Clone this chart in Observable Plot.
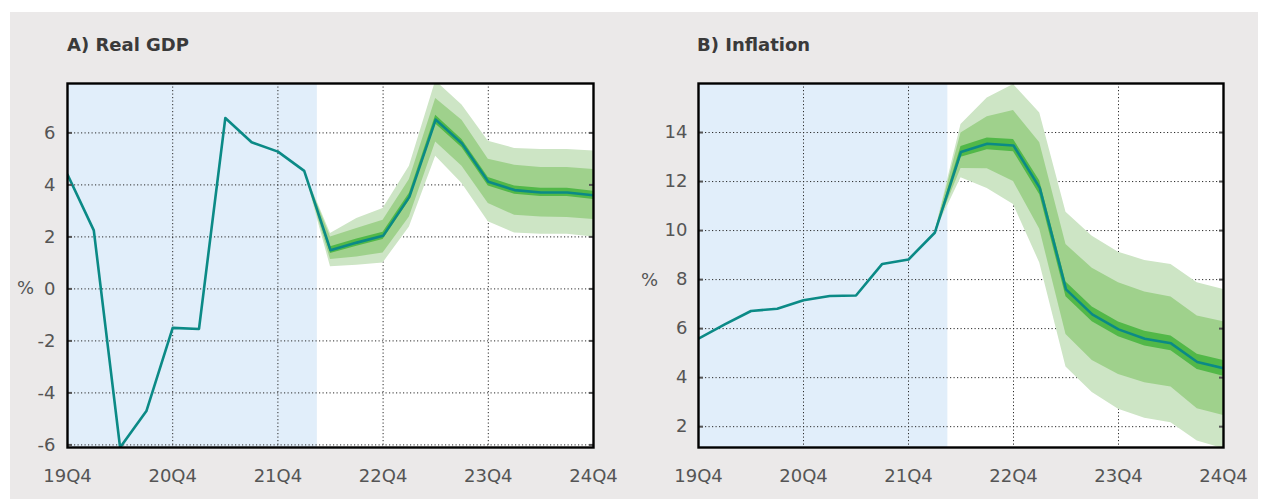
<!DOCTYPE html>
<html>
<head>
<meta charset="utf-8">
<script src="https://cdn.jsdelivr.net/npm/d3@7"></script>
<script src="https://cdn.jsdelivr.net/npm/@observablehq/plot@0.6"></script>
<style>
  html, body { margin: 0; padding: 0; background: #ffffff; }
  #page { position: relative; width: 1262px; height: 499px; overflow: hidden; font-family: "DejaVu Sans", sans-serif; }
  #panel { position: absolute; left: 10px; top: 12px; width: 1248px; height: 487px; background: #ebe9e9; }
  .title { position: absolute; font-size: 18px; font-weight: 700; color: #3a3a3a; line-height: 18px; white-space: nowrap; }
  .unit { position: absolute; font-size: 18px; color: #555555; line-height: 18px; }
  .chart { position: absolute; top: 0; }
  .chart svg { background: transparent !important; display: block; }
</style>
</head>
<body>
<div id="page">
  <div id="panel"></div>
  <div class="title" style="left:67px; top:36px;">A) Real GDP</div>
  <div class="title" style="left:697px; top:36px;">B) Inflation</div>
  <div class="chart" id="left" style="left:0px;"></div>
  <div class="chart" id="right" style="left:630px;"></div>
  <div class="unit" style="left:17px; top:279px;">%</div>
  <div class="unit" style="left:641px; top:271px;">%</div>
</div>
<script>
// Quarters from 19Q4 to 24Q4
const quarters = ["19Q4","20Q1","20Q2","20Q3","20Q4","21Q1","21Q2","21Q3","21Q4","22Q1","22Q2","22Q3","22Q4","23Q1","23Q2","23Q3","23Q4","24Q1","24Q2","24Q3","24Q4"];
const xTickLabels = ["19Q4","20Q4","21Q4","22Q4","23Q4","24Q4"];
// History shading: end between 22Q1 and 22Q2
const historyShade = [{start: "19Q4", endQuarterPos: 9.5}];
// First quarter of the fan (last observed)
const fanStart = "22Q1";

// A) Real GDP (%)
const gdp = [4.4, 2.25, -6.1, -4.7, -1.5, -1.54, 6.57, 5.64, 5.28, 4.54, 1.49, 1.78, 2.04, 3.54, 6.51, 5.59, 4.12, 3.80, 3.71, 3.71, 3.60];
const gdpOuterHi = [4.54, 2.13, 2.71, 3.09, 4.72, 8.0, 7.07, 5.68, 5.40, 5.36, 5.36, 5.30];
const gdpOuterLo = [4.54, 0.85, 0.91, 1.00, 2.38, 5.10, 4.05, 2.58, 2.15, 2.10, 2.10, 2.00];
const gdpMidHi   = [4.54, 2.00, 2.32, 2.64, 4.21, 7.32, 6.49, 4.99, 4.76, 4.67, 4.67, 4.59];
const gdpMidLo   = [4.54, 1.13, 1.23, 1.38, 2.77, 5.65, 4.72, 3.28, 2.83, 2.77, 2.75, 2.67];
const gdpInnerHi = [4.54, 1.62, 1.92, 2.18, 3.68, 6.68, 5.75, 4.28, 3.96, 3.87, 3.87, 3.76];
const gdpInnerLo = [4.54, 1.36, 1.64, 1.90, 3.40, 6.34, 5.43, 3.96, 3.64, 3.55, 3.55, 3.44];
const gdpTicks = [-6, -4, -2, 0, 2, 4, 6];

// B) Inflation (%)
const inflation = [5.59, 6.17, 6.72, 6.81, 7.16, 7.33, 7.35, 8.64, 8.82, 9.91, 13.21, 13.54, 13.47, 11.74, 7.60, 6.58, 5.97, 5.59, 5.40, 4.64, 4.38];
const infOuterHi = [9.91, 14.33, 15.41, 15.96, 14.80, 10.75, 9.77, 9.12, 8.78, 8.62, 7.87, 7.60];
const infOuterLo = [9.91, 12.15, 11.72, 11.06, 8.68, 4.43, 3.39, 2.71, 2.34, 2.16, 1.42, 1.10];
const infMidHi   = [9.91, 13.98, 14.64, 14.90, 13.58, 9.43, 8.46, 7.87, 7.49, 7.29, 6.51, 6.28];
const infMidLo   = [9.91, 12.53, 12.52, 12.00, 10.05, 5.76, 4.70, 4.13, 3.79, 3.62, 2.73, 2.46];
const infInnerHi = [9.91, 13.43, 13.78, 13.72, 12.02, 7.90, 6.88, 6.27, 5.89, 5.70, 4.95, 4.70];
const infInnerLo = [9.91, 12.99, 13.30, 13.22, 11.46, 7.30, 6.28, 5.67, 5.29, 5.10, 4.33, 4.06];
const infTicks = [2, 4, 6, 8, 10, 12, 14];

const colors = {
  line: "#0b8a86",
  outer: "#cde5c5",
  mid: "#9fd18c",
  inner: "#52b848",
  shade: "#e1eefa",
  grid: "#2a2a2a"
};

function build({values, outerHi, outerLo, midHi, midLo, innerHi, innerLo, yDomain, yTicks, marginLeft, marginRight, width, yPad}) {
  const pos = q => quarters.indexOf(q);
  const xTicks = xTickLabels.map(pos);
  const start = pos(fanStart);
  const fan = outerHi.map((_, k) => ({
    x: start + k,
    oh: outerHi[k], ol: outerLo[k],
    mh: midHi[k], ml: midLo[k],
    ih: innerHi[k], il: innerLo[k]
  }));
  const series = values.map((v, i) => ({x: i, y: v}));
  const shade = historyShade.map(d => ({x1: pos(d.start), x2: d.endQuarterPos}));
  return Plot.plot({
    width, height: 499,
    marginLeft, marginRight, marginTop: 83, marginBottom: 52,
    style: {fontFamily: "'DejaVu Sans', sans-serif", fontSize: "18px", color: "#555555", background: "transparent"},
    x: {domain: [0, quarters.length - 1]},
    y: {domain: yDomain},
    marks: [
      Plot.frame({fill: "#ffffff"}),
      Plot.rect(shade, {x1: "x1", x2: "x2", fill: colors.shade}),
      Plot.gridX(xTicks.slice(1, -1), {stroke: colors.grid, strokeOpacity: 1, strokeWidth: 1, strokeDasharray: "1.2,2.3"}),
      Plot.gridY(yTicks, {stroke: colors.grid, strokeOpacity: 1, strokeWidth: 1, strokeDasharray: "1.2,2.3"}),
      Plot.areaY(fan, {x: "x", y1: "ol", y2: "oh", fill: colors.outer, clip: true}),
      Plot.areaY(fan, {x: "x", y1: "ml", y2: "mh", fill: colors.mid, clip: true}),
      Plot.areaY(fan, {x: "x", y1: "il", y2: "ih", fill: colors.inner, clip: true}),
      Plot.line(series, {x: "x", y: "y", stroke: colors.line, strokeWidth: 2.6, clip: true}),
      Plot.axisY({anchor: "left", ticks: yTicks, tickSize: -5, tickFormat: () => "", strokeWidth: 2}),
      Plot.axisY({anchor: "right", ticks: yTicks, tickSize: -5, tickFormat: () => "", strokeWidth: 2}),
      Plot.axisY({anchor: "left", ticks: yTicks, tickSize: 0, tickPadding: yPad, tickFormat: d => String(d), fill: "#555555", fontSize: 18}),
      Plot.axisX({anchor: "bottom", ticks: xTicks, tickSize: 0, tickPadding: 22, tickFormat: d => quarters[d], fill: "#555555", fontSize: 18}),
      Plot.frame({stroke: "#000000", strokeWidth: 2.4})
    ]
  });
}

document.getElementById("left").appendChild(build({
  values: gdp, outerHi: gdpOuterHi, outerLo: gdpOuterLo, midHi: gdpMidHi, midLo: gdpMidLo,
  innerHi: gdpInnerHi, innerLo: gdpInnerLo, yDomain: [-6.1, 7.9], yTicks: gdpTicks,
  marginLeft: 67, marginRight: 37, width: 630, yPad: 12
}));
document.getElementById("right").appendChild(build({
  values: inflation, outerHi: infOuterHi, outerLo: infOuterLo, midHi: infMidHi, midLo: infMidLo,
  innerHi: infInnerHi, innerLo: infInnerLo, yDomain: [1.15, 16], yTicks: infTicks,
  marginLeft: 68, marginRight: 39, width: 632, yPad: 11
}));
</script>
</body>
</html>
